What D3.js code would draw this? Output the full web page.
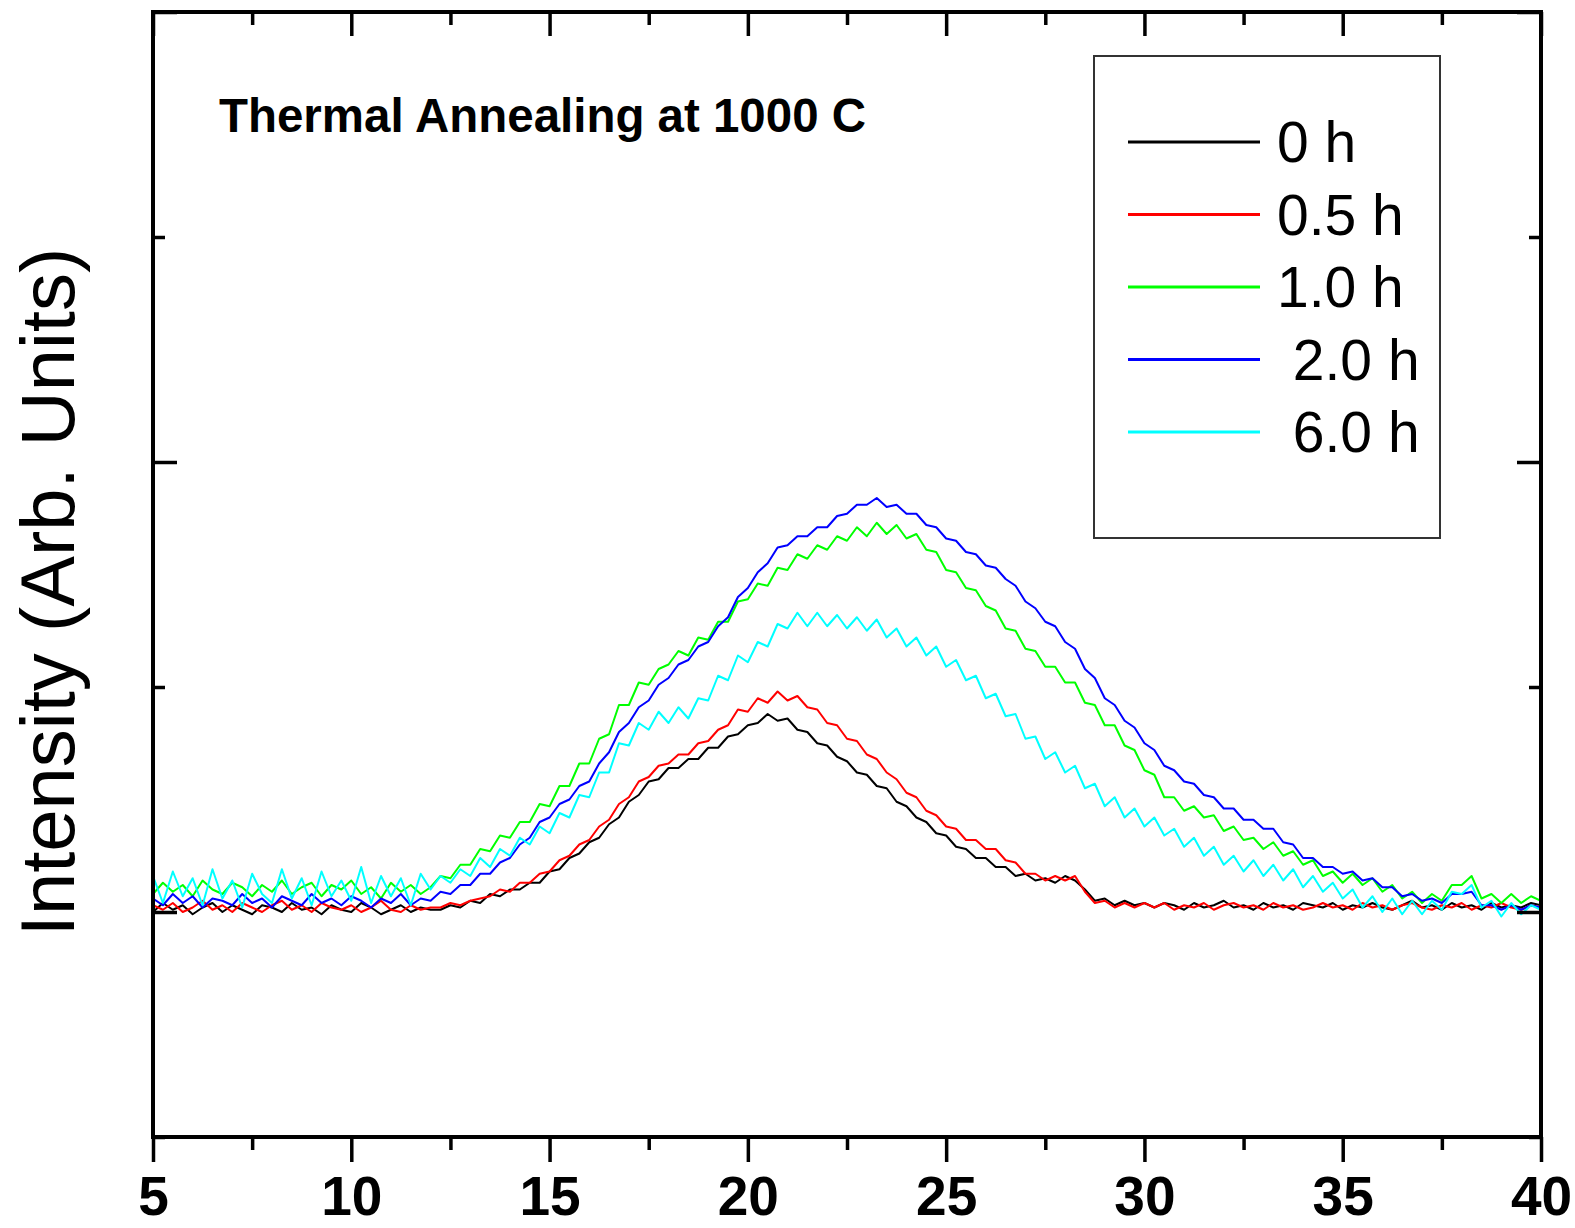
<!DOCTYPE html>
<html>
<head>
<meta charset="utf-8">
<script src="https://cdn.jsdelivr.net/npm/d3@7/dist/d3.min.js"></script>
<style>
  body { margin: 0; background: #fff; }
  svg { display: block; font-family: 'Liberation Sans', Arial, sans-serif; }
  .frame { fill: none; stroke: #000; stroke-width: 4; }
  .axis path { display: none; }
  .axis line { stroke: #000; stroke-width: 3.5; }
  .axis text { font-size: 55px; font-weight: bold; fill: #000; }
  .trace { fill: none; stroke-width: 2; stroke-linejoin: round; }
</style>
</head>
<body>
<svg width="1575" height="1228"></svg>
<script>
// XRD scans sampled on a regular 2-theta grid
var angleStart = 5, angleStep = 0.25;

var seriesNames = ['0 h', '0.5 h', '1.0 h', ' 2.0 h', ' 6.0 h'];
var seriesColors = ['#000000', '#ff0000', '#00ff00', '#0000ff', '#00ffff'];

var xMajorTicks = [5, 10, 15, 20, 25, 30, 35, 40];
var xMinorTicks = [7.5, 12.5, 17.5, 22.5, 27.5, 32.5, 37.5];
var yMajorTicks = [100, 300, 500];
var yMinorTicks = [0, 200, 400];

var intensity0h = [
  100,104,101,103,99,102,104,100,103,101, 99,103,102,100,104,101,102,99,103,101,
  100,104,102,99,101,103,100,102,101,
  101,103,102,105,104,108,107,110,110,113,113,
  118,119,124,126,131,133,139,142,149,152,158,159,164,164,168,168,173,173,178,179,
  183,184,188,185,186,181,180,175,174,169,167,162,161,156,155,149,147,142,140,135,
  134,129,128,124,124,120,120,116,117,114,115,113,116,114,110,105,106,103,105,103,
  104,
  102,104,103,101,104,102,103,105,102,103, 101,104,102,103,101,104,103,102,104,101,
  103,102,104,102,101,103,105,102,103,101, 104,102,103,101,104,102,103,102,104,103
];

var intensity05h = [
  103,101,104,100,102,105,101,103,100,104, 102,100,103,105,101,103,100,104,102,101,
  103,100,102,105,101,100,103,101,102,
  102,104,103,105,106,107,110,109,113,113,117,
  118,123,125,130,132,138,141,148,151,158,160,165,166,170,170,175,176,181,183,190,
  189,195,193,198,194,196,191,190,184,183,177,176,170,168,162,159,153,151,145,143,
  138,137,132,132,128,128,123,122,117,117,114,116,114,116,109,104,105,102,104,102,
  104,
  102,104,101,103,102,104,101,103,104,102, 103,101,104,102,103,101,102,104,102,103,
  101,104,102,103,101,103,104,102,101,103, 102,104,101,103,102,104,102,101,103,102
];

var intensity1h = [
  108,113,109,112,107,114,110,108,113,111, 107,112,109,114,108,111,113,107,112,110,
  114,108,111,106,113,109,112,108,
  111,116,115,121,121,128,127,134,133,140,140,148,
  147,156,156,166,166,177,179,192,192,202,201,208,210,216,214,222,221,229,229,238,
  239,246,245,253,252,259,257,263,261,267,265,271,267,273,268,272,266,268,261,260,
  252,251,244,243,236,234,226,225,217,216,209,209,202,202,193,192,183,183,174,172,
  163,161,151,151,145,147,142,143,136,138,132,133,128,131,125,127,121,123,116,118,
  113,117,112,115,109,112,106,109,104,108,105,112,112,116,106,108,104,108,104,107,
  105
];

var intensity2h = [
  106,103,108,104,107,102,106,105,103,108, 104,106,102,107,105,103,108,104,106,103,
  107,105,102,106,104,108,103,106,
  105,109,108,112,112,117,117,122,124,130,133,140,
  142,148,150,156,158,166,171,180,184,191,194,201,204,210,212,218,220,227,231,240,
  244,251,255,262,263,267,267,271,271,276,277,281,281,284,280,281,277,277,272,271,
  266,265,260,259,254,253,248,245,238,235,229,227,220,217,208,204,195,192,185,182,
  175,172,165,163,158,157,152,151,146,146,141,141,137,137,131,130,124,124,120,120,
  117,118,114,115,111,111,107,108,105,106,104,108,108,109,103,103,101,103,101,103,
  102
];

var intensity6h = [
  116,104,118,107,115,103,119,106,114,102, 117,108,104,119,106,115,103,118,107,114,
  105,120,104,116,107,115,103,117,
  110,116,113,119,116,124,120,128,125,133,130,138,
  135,144,142,152,151,162,162,175,174,184,181,189,184,191,186,195,194,205,203,214,
  211,220,218,228,226,233,227,233,227,232,226,231,225,230,222,226,218,222,214,218,
  209,212,203,205,195,197,187,188,177,178,168,171,162,165,155,157,147,151,142,146,
  138,142,134,137,129,133,125,129,121,125,118,123,116,121,114,119,111,116,109,113,
  106,110,102,107,100,106,99,105,99,105,101,109,108,112,102,105,98,104,99,103,
  101
];

var seriesValues = [intensity0h, intensity05h, intensity1h, intensity2h, intensity6h];

var svg = d3.select('svg');

var plot = { left: 153, right: 1541, top: 12, bottom: 1137 };

var x = d3.scaleLinear().domain([5, 40]).range([plot.left, plot.right]);
var y = d3.scaleLinear().domain([0, 500]).range([plot.bottom, plot.top]);


/* ---
TRACES
--- */
var line = d3.line()
  .x(function(d, i) { return x(angleStart + i * angleStep); })
  .y(function(d) { return y(d); });

svg.append('defs')
  .append('clipPath')
  .attr('id', 'plot-clip')
  .append('rect')
  .attr('x', plot.left)
  .attr('y', plot.top)
  .attr('width', plot.right - plot.left)
  .attr('height', plot.bottom - plot.top);

svg.append('g')
  .attr('clip-path', 'url(#plot-clip)')
  .selectAll('path')
  .data(seriesValues)
  .enter()
  .append('path')
  .attr('class', 'trace')
  .attr('stroke', function(d, i) { return seriesColors[i]; })
  .attr('d', line);


/* ---
AXES
--- */
function drawAxis(axis, transform) {
  svg.append('g')
    .attr('class', 'axis')
    .attr('transform', transform)
    .call(axis);
}

// bottom: ticks point out, labels on the majors
drawAxis(d3.axisBottom(x).tickValues(xMajorTicks).tickSize(25).tickPadding(14).tickFormat(d3.format('d')),
  'translate(0,' + plot.bottom + ')');
drawAxis(d3.axisBottom(x).tickValues(xMinorTicks).tickSize(13).tickFormat(''),
  'translate(0,' + plot.bottom + ')');

// top: ticks point in
drawAxis(d3.axisBottom(x).tickValues(xMajorTicks).tickSize(24).tickFormat(''),
  'translate(0,' + plot.top + ')');
drawAxis(d3.axisBottom(x).tickValues(xMinorTicks).tickSize(13).tickFormat(''),
  'translate(0,' + plot.top + ')');

// left and right: ticks point in, no labels
drawAxis(d3.axisRight(y).tickValues(yMajorTicks).tickSize(24).tickFormat(''),
  'translate(' + plot.left + ',0)');
drawAxis(d3.axisRight(y).tickValues(yMinorTicks).tickSize(12).tickFormat(''),
  'translate(' + plot.left + ',0)');
drawAxis(d3.axisLeft(y).tickValues(yMajorTicks).tickSize(24).tickFormat(''),
  'translate(' + plot.right + ',0)');
drawAxis(d3.axisLeft(y).tickValues(yMinorTicks).tickSize(12).tickFormat(''),
  'translate(' + plot.right + ',0)');

svg.append('rect')
  .attr('class', 'frame')
  .attr('x', plot.left)
  .attr('y', plot.top)
  .attr('width', plot.right - plot.left)
  .attr('height', plot.bottom - plot.top);


/* ---
TEXT
--- */
svg.append('text')
  .attr('x', 219)
  .attr('y', 132)
  .attr('textLength', 647)
  .attr('lengthAdjust', 'spacingAndGlyphs')
  .style('font-size', '48px')
  .style('font-weight', 'bold')
  .text('Thermal Annealing at 1000 C');

svg.append('text')
  .attr('transform', 'translate(74,' + 592 + ') rotate(-90)')
  .attr('text-anchor', 'middle')
  .style('font-size', '76px')
  .text('Intensity (Arb. Units)');


/* ---
LEGEND
--- */
var legend = svg.append('g').attr('class', 'legend');

legend.append('rect')
  .attr('x', 1094)
  .attr('y', 56)
  .attr('width', 346)
  .attr('height', 482)
  .attr('fill', '#fff')
  .attr('stroke', '#333')
  .attr('stroke-width', 2);

var items = legend.selectAll('.item')
  .data(seriesNames)
  .enter()
  .append('g')
  .attr('class', 'item')
  .attr('transform', function(d, i) { return 'translate(0,' + (142 + i * 72.5) + ')'; });

items.append('line')
  .attr('x1', 1128)
  .attr('x2', 1260)
  .attr('stroke', function(d, i) { return seriesColors[i]; })
  .attr('stroke-width', 3);

items.append('text')
  .attr('x', 1277)
  .attr('y', 20)
  .attr('xml:space', 'preserve')
  .style('white-space', 'pre')
  .style('font-size', '57px')
  .text(function(d) { return d; });
</script>
</body>
</html>
